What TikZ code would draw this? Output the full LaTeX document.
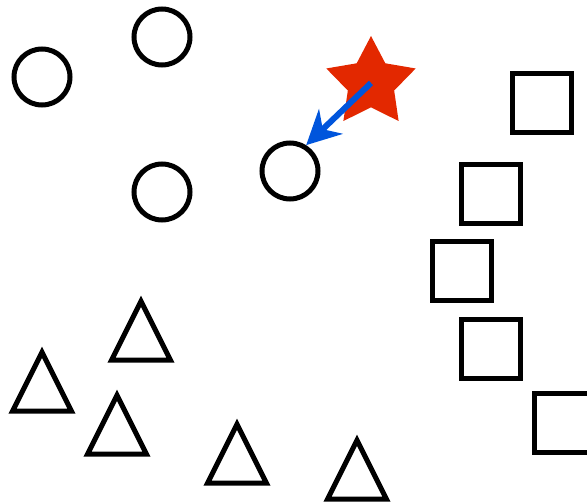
\documentclass[tikz,border=0pt]{standalone}
\usepackage{xcolor}
\usetikzlibrary{shapes.geometric, arrows.meta, positioning}
\definecolor{starred}{RGB}{227,40,0}
\definecolor{arrowblue}{RGB}{0,85,220}
\tikzset{
  dot/.style={circle, draw=black, line width=5pt, minimum size=56pt, inner sep=0pt},
  box/.style={rectangle, draw=black, line width=5pt, minimum size=59pt, inner sep=0pt},
  tri/.style={isosceles triangle, isosceles triangle apex angle=52, shape border rotate=90,
              isosceles triangle stretches, draw=black, line width=5pt,
              minimum width=59pt, minimum height=59pt, inner sep=0pt},
  target/.style={star, star points=5, star point ratio=1.93, fill=starred,
                 minimum size=94pt, inner sep=0pt},
  arrow/.style={-{Stealth[length=34pt, width=34pt]}, line width=6pt, draw=arrowblue},
}
\begin{document}
\begin{tikzpicture}[x=1pt, y=-1pt]
  \useasboundingbox (0,0) rectangle (587,503);
  % circles
  \node[dot] (c1) at (42,77)   {};
  \node[dot] (c2) at (162,37)  {};
  \node[dot] (c3) at (162,192) {};
  \node[dot] (c4) at (290,171) {};
  % squares
  \node[box] (s1) at (542,103) {};
  \node[box] (s2) at (491,194) {};
  \node[box] (s3) at (462,271) {};
  \node[box] (s4) at (491,349) {};
  \node[box] (s5) at (564,423) {};
  % triangles
  \node[tri] (t1) at (141,342) {};
  \node[tri] (t2) at (42,393)  {};
  \node[tri] (t3) at (117,436) {};
  \node[tri] (t4) at (237,465) {};
  \node[tri] (t5) at (357,481) {};
  % star and arrow
  \node[target] (goal) at (371,83) {};
  \draw[arrow] (goal.center) -- (c4.58);
\end{tikzpicture}
\end{document}
